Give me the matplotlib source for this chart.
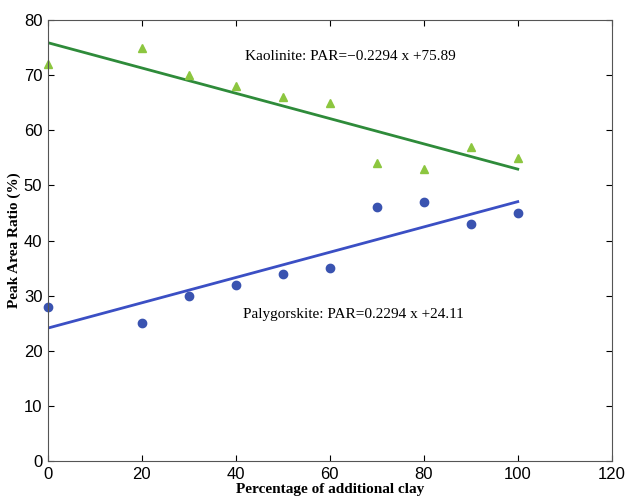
import numpy as np
import matplotlib.pyplot as plt

# data
clay_pct = [0, 20, 30, 40, 50, 60, 70, 80, 90, 100]
kaolinite = [72, 75, 70, 68, 66, 65, 54, 53, 57, 55]
palygorskite = [28, 25, 30, 32, 34, 35, 46, 47, 43, 45]

# fitted lines (from the equations printed on the chart)
kao_fit = (-0.2294, 75.89)
paly_fit = (0.2294, 24.11)
fit_x = np.array([0, 100])

fig = plt.figure(figsize=(6.3, 4.96), dpi=100)
ax = fig.add_axes([0.076, 0.0706, 0.895, 0.889])

ax.plot(fit_x, kao_fit[0] * fit_x + kao_fit[1], color='#2e8b3a', lw=2)
ax.plot(fit_x, paly_fit[0] * fit_x + paly_fit[1], color='#3b4fc4', lw=2)
ax.plot(clay_pct, kaolinite, '^', color='#8cc63f', ms=6, mec='#8cc63f', clip_on=False)
ax.plot(clay_pct, palygorskite, 'o', color='#3a53b0', ms=6, mec='#3a53b0', clip_on=False)

ax.text(42, 73.3, 'Kaolinite: PAR=\u22120.2294 x +75.89', family='Liberation Serif',
        fontsize=11, va='center')
ax.text(41.5, 26.5, 'Palygorskite: PAR=0.2294 x +24.11', family='Liberation Serif',
        fontsize=11, va='center')

ax.set_xlim(0, 120)
ax.set_ylim(0, 80)
ax.set_xticks(range(0, 121, 20))
ax.set_yticks(range(0, 81, 10))
ax.tick_params(direction='in', top=True, right=True, length=4, labelsize=12, pad=4)
for lab in ax.get_xticklabels() + ax.get_yticklabels():
    lab.set_family('Liberation Sans')
ax.set_xlabel('Percentage of additional clay', family='Liberation Serif', fontsize=11,
              fontweight='bold', labelpad=1)
ax.set_ylabel('Peak Area Ratio (%)', family='Liberation Serif', fontsize=11,
              fontweight='bold', labelpad=2)
for s in ax.spines.values():
    s.set_color('#555555')

fig.savefig('out.png', dpi=100)
